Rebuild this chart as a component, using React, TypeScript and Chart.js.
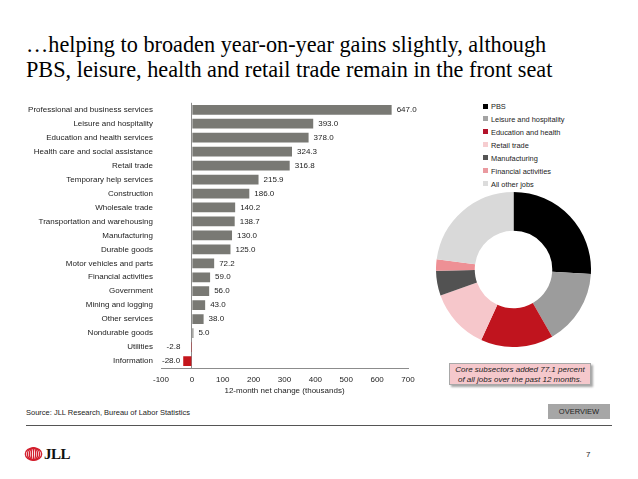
import React, { useEffect, useRef } from 'react';
import { Chart, registerables } from 'chart.js';

Chart.register(...registerables);

// 12-month net change in employment by sector (thousands)
const sectors = [
  'Professional and business services',
  'Leisure and hospitality',
  'Education and health services',
  'Health care and social assistance',
  'Retail trade',
  'Temporary help services',
  'Construction',
  'Wholesale trade',
  'Transportation and warehousing',
  'Manufacturing',
  'Durable goods',
  'Motor vehicles and parts',
  'Financial activities',
  'Government',
  'Mining and logging',
  'Other services',
  'Nondurable goods',
  'Utilities',
  'Information',
];
const netChange = [
  647.0, 393.0, 378.0, 324.3, 316.8, 215.9, 186.0, 140.2, 138.7, 130.0, 125.0,
  72.2, 59.0, 56.0, 43.0, 38.0, 5.0, -2.8, -28.0,
];
const axisMin = -100;
const axisMax = 700;
const axisStep = 100;

// Share of total job gains
const shareLabels = [
  'PBS',
  'Leisure and hospitality',
  'Education and health',
  'Retail trade',
  'Manufacturing',
  'Financial activities',
  'All other jobs',
];
const shareValues = [647.0, 393.0, 378.0, 316.8, 130.0, 59.0, 571.0];

const shareColors = ['#000000', '#9c9c9c', '#c0141e', '#f6c7cb', '#525252', '#ee9095', '#d9d9d9'];
const legendColors = ['#000000', '#a3a3a3', '#b3122a', '#f6cdd0', '#555555', '#ea9aa0', '#dcdcdc'];

const SANS = "'Liberation Sans', Arial, Helvetica, sans-serif";
const SERIF = "'Liberation Serif', 'Times New Roman', Times, serif";
const BAR_GRAY = '#797974';
const BAR_RED = '#c4161c';
const AXIS_GRAY = '#8c8c8c';
const TEXT = '#222222';

const valueLabels = {
  id: 'valueLabels',
  afterDatasetsDraw(chart: any) {
    const { ctx } = chart;
    const meta = chart.getDatasetMeta(0);
    const data = chart.data.datasets[0].data as number[];
    ctx.save();
    ctx.font = `8px ${SANS}`;
    ctx.fillStyle = TEXT;
    ctx.textBaseline = 'middle';
    meta.data.forEach((bar: any, i: number) => {
      const v = data[i];
      const text = v.toFixed(1);
      if (v >= 0) {
        ctx.textAlign = 'left';
        ctx.fillText(text, bar.x + 5, bar.y);
      } else {
        ctx.textAlign = 'right';
        ctx.fillText(text, Math.min(bar.x, bar.base - 8) - 3, bar.y);
      }
    });
    ctx.restore();
  },
};

function BarChart() {
  const ref = useRef<HTMLCanvasElement>(null);
  useEffect(() => {
    const chart = new Chart(ref.current!, {
      type: 'bar',
      data: {
        labels: sectors,
        datasets: [
          {
            data: netChange,
            backgroundColor: netChange.map((v) => (v < 0 ? BAR_RED : BAR_GRAY)),
            categoryPercentage: 1,
            barPercentage: 0.7,
          },
        ],
      },
      options: {
        indexAxis: 'y',
        animation: false,
        responsive: false,
        layout: { padding: { top: 6, right: 22, left: 0, bottom: 0 } },
        plugins: { legend: { display: false }, tooltip: { enabled: false } },
        scales: {
          x: {
            min: axisMin,
            max: axisMax,
            ticks: {
              stepSize: axisStep,
              font: { family: SANS, size: 8 },
              color: TEXT,
              padding: 7,
            },
            grid: {
              drawTicks: false,
              color: (c: any) => (c.tick && c.tick.value === 0 ? AXIS_GRAY : 'rgba(0,0,0,0)'),
            },
            border: { display: true, color: AXIS_GRAY },
            title: {
              display: true,
              text: '12-month net change (thousands)',
              font: { family: SANS, size: 8 },
              color: TEXT,
              padding: { top: 0, bottom: 4 },
            },
            afterFit: (s: any) => {
              s.height = 32;
            },
          },
          y: {
            ticks: {
              font: { family: SANS, size: 8 },
              color: TEXT,
              padding: 8,
              autoSkip: false,
            },
            grid: { display: false, drawTicks: false },
            border: { display: false },
            afterFit: (s: any) => {
              s.width = 161;
            },
          },
        },
      },
      plugins: [valueLabels],
    });
    return () => chart.destroy();
  }, []);
  return (
    <canvas
      ref={ref}
      width={430}
      height={310}
      style={{ position: 'absolute', left: 0, top: 90, width: 430, height: 310 }}
    />
  );
}

function ShareDonut() {
  const ref = useRef<HTMLCanvasElement>(null);
  useEffect(() => {
    const chart = new Chart(ref.current!, {
      type: 'doughnut',
      data: {
        labels: shareLabels,
        datasets: [{ data: shareValues, backgroundColor: shareColors, borderWidth: 0 }],
      },
      options: {
        animation: false,
        responsive: false,
        cutout: '50%',
        plugins: { legend: { display: false }, tooltip: { enabled: false } },
      },
    });
    return () => chart.destroy();
  }, []);
  return (
    <canvas
      ref={ref}
      width={155}
      height={155}
      style={{ position: 'absolute', left: 436, top: 192, width: 155, height: 155 }}
    />
  );
}

function JllLogo() {
  return (
    <div style={{ position: 'absolute', left: 24, top: 447, height: 14 }}>
      <svg width={19} height={14} style={{ position: 'absolute', left: 0, top: 0 }}>
        {[8.2, 6.2, 4.2, 2.2].map((rx) => (
          <ellipse key={rx} cx={9.5} cy={7} rx={rx} ry={6.2} fill="none" stroke="#d3202e" strokeWidth={1.3} />
        ))}
        <line x1={9.5} y1={0.8} x2={9.5} y2={13.2} stroke="#d3202e" strokeWidth={1.2} />
      </svg>
      <div
        style={{
          position: 'absolute',
          left: 20,
          top: -2,
          fontFamily: SERIF,
          fontWeight: 'bold',
          fontSize: 15,
          color: '#111',
          letterSpacing: -0.5,
          lineHeight: '18px',
        }}
      >
        JLL
      </div>
    </div>
  );
}

export default function App() {
  return (
    <div
      style={{
        position: 'fixed',
        left: 0,
        top: 0,
        width: 638,
        height: 479,
        background: '#fff',
        overflow: 'hidden',
        fontFamily: SANS,
      }}
    >
      <div
        style={{
          position: 'absolute',
          left: 26,
          top: 32,
          fontFamily: SERIF,
          fontSize: 22.25,
          lineHeight: '25px',
          color: '#000',
          whiteSpace: 'nowrap',
        }}
      >
        …helping to broaden year-on-year gains slightly, although
        <br />
        PBS, leisure, health and retail trade remain in the front seat
      </div>

      <BarChart />
      <ShareDonut />

      {shareLabels.map((label, i) => (
        <div
          key={label}
          style={{
            position: 'absolute',
            left: 483,
            top: 107 + i * 12.95 - 6,
            height: 12,
            lineHeight: '12px',
            fontSize: 7.4,
            color: TEXT,
            whiteSpace: 'nowrap',
          }}
        >
          <span
            style={{
              display: 'inline-block',
              width: 5,
              height: 5,
              background: legendColors[i],
              marginRight: 3,
              verticalAlign: 'middle',
              position: 'relative',
              top: -1,
            }}
          />
          {label}
        </div>
      ))}

      <div
        style={{
          position: 'absolute',
          left: 449,
          top: 363,
          width: 142,
          height: 22,
          boxSizing: 'border-box',
          background: '#f5c8cc',
          border: '1px solid #a8a8a8',
          boxShadow: '2px 2px 2px rgba(0,0,0,0.35)',
          fontStyle: 'italic',
          fontSize: 8,
          lineHeight: '10px',
          textAlign: 'center',
          color: TEXT,
          paddingTop: 0.5,
          whiteSpace: 'nowrap',
        }}
      >
        Core subsectors added 77.1 percent
        <br />
        of all jobs over the past 12 months.
      </div>

      <div
        style={{
          position: 'absolute',
          left: 26,
          top: 407,
          fontSize: 7.5,
          lineHeight: '12px',
          color: TEXT,
          whiteSpace: 'nowrap',
        }}
      >
        Source: JLL Research, Bureau of Labor Statistics
      </div>

      <div
        style={{
          position: 'absolute',
          left: 548,
          top: 404,
          width: 62,
          height: 15,
          background: '#a6a6a6',
          fontSize: 7.5,
          lineHeight: '15px',
          textAlign: 'center',
          color: TEXT,
        }}
      >
        OVERVIEW
      </div>

      <div
        style={{
          position: 'absolute',
          left: 26,
          top: 424.5,
          width: 586,
          height: 1,
          background: '#555',
        }}
      />

      <JllLogo />

      <div
        style={{
          position: 'absolute',
          left: 586,
          top: 449,
          fontSize: 8,
          lineHeight: '12px',
          color: TEXT,
        }}
      >
        7
      </div>
    </div>
  );
}
